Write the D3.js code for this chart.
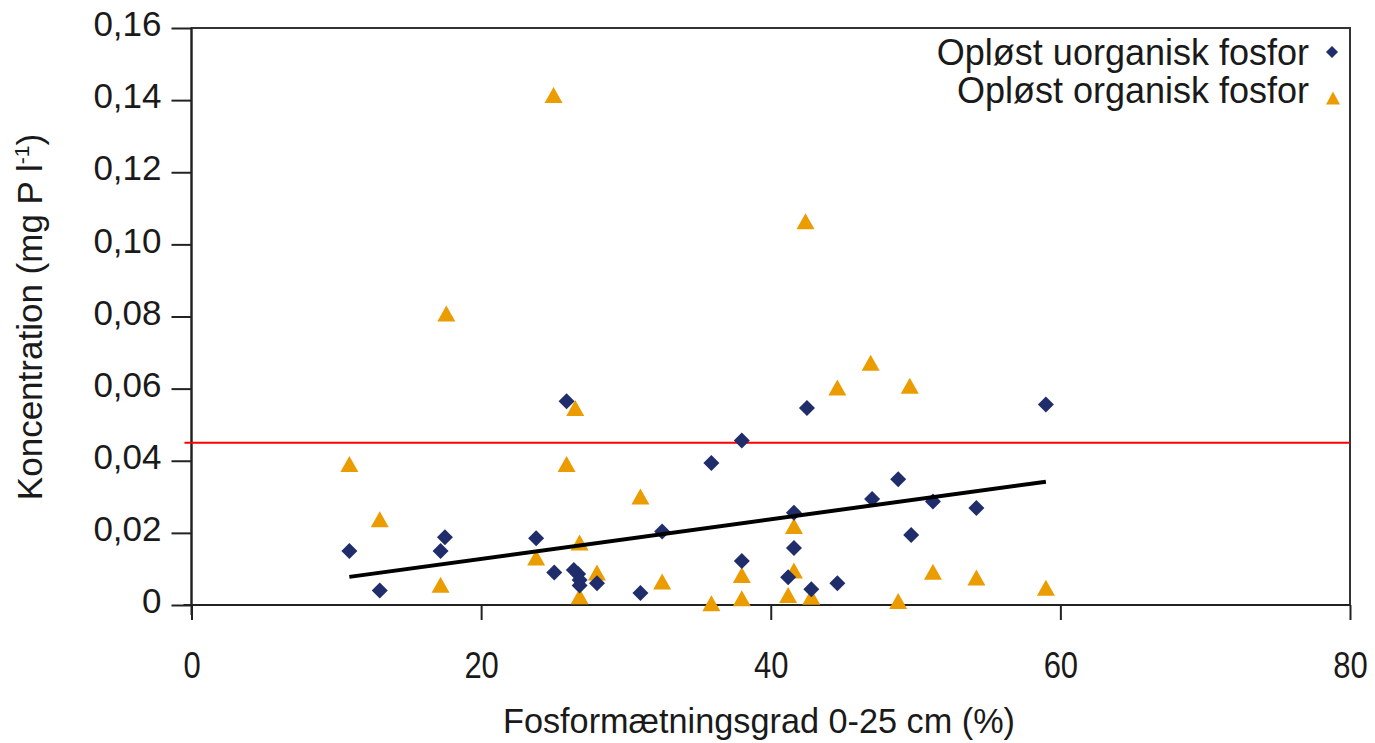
<!DOCTYPE html>
<html>
<head>
<meta charset="utf-8">
<script src="https://cdn.jsdelivr.net/npm/d3@7/dist/d3.min.js"></script>
<style>
    body { margin: 0; background: white; }
    svg { display: block; font-family: "Liberation Sans", Arial, sans-serif; }
</style>
</head>
<body>
<svg id="chart" width="1375" height="743"></svg>
<script>
    // Opløst uorganisk fosfor (diamonds)
    const uorgX = [10.9, 13.0, 17.2, 17.5, 23.8, 25.05, 25.9, 26.4, 26.7, 26.8, 26.8, 28.0, 31.0, 32.5, 35.9,
                   38.0, 38.0, 41.2, 41.6, 41.6, 42.5, 42.8, 44.6, 47.0, 48.8, 49.7, 51.2, 54.2, 59.0];
    const uorgY = [0.0150, 0.0040, 0.0150, 0.0188, 0.0185, 0.0090, 0.0565, 0.0097, 0.0086, 0.0069, 0.0054, 0.0060, 0.0033, 0.0204, 0.0394,
                   0.0456, 0.0122, 0.0077, 0.0256, 0.0158, 0.0546, 0.0044, 0.0060, 0.0294, 0.0349, 0.0194, 0.0287, 0.0269, 0.0556];

    // Opløst organisk fosfor (triangles)
    const orgX = [10.9, 13.0, 17.2, 17.6, 23.8, 25.0, 25.9, 26.5, 26.8, 26.8, 28.0, 31.0, 32.5, 35.9,
                  38.0, 38.0, 41.2, 41.6, 41.6, 42.4, 42.8, 44.6, 46.9, 48.8, 49.6, 51.2, 54.2, 59.0];
    const orgY = [0.0391, 0.0238, 0.0056, 0.0808, 0.0132, 0.1414, 0.0391, 0.0546, 0.0173, 0.0024, 0.0090, 0.0301, 0.0065, 0.0005,
                  0.0083, 0.0019, 0.0028, 0.0219, 0.0096, 0.1064, 0.0023, 0.0603, 0.0672, 0.0011, 0.0608, 0.0092, 0.0076, 0.0048];

    // trend line for uorganisk fosfor, and the red limit line
    const trendX = [10.9, 59.0];
    const trendY = [0.0078, 0.0342];
    const limitY = 0.045;

    const xTicks = [0, 20, 40, 60, 80];
    const yTicks = [0, 0.02, 0.04, 0.06, 0.08, 0.10, 0.12, 0.14, 0.16];
    const legendLabels = ['Opløst uorganisk fosfor', 'Opløst organisk fosfor'];

    const navy = '#1f2d6b';
    const orange = '#eb9c00';
    const textCol = '#1a1a1a';

    const pLeft = 191.5, pRight = 1350, pTop = 28, pBottom = 605;

    const svg = d3.select('#chart');
    const x = d3.scaleLinear().domain([0, 80]).range([pLeft, pRight]);
    const y = d3.scaleLinear().domain([0, 0.16]).range([pBottom, pTop]);

    // plot frame
    svg.append('rect')
        .attr('x', pLeft).attr('y', pTop)
        .attr('width', pRight - pLeft).attr('height', pBottom - pTop)
        .attr('fill', 'none').attr('stroke', '#333').attr('stroke-width', 2);

    // y axis
    const yAxis = svg.append('g')
        .attr('transform', `translate(${pLeft},0)`)
        .call(d3.axisLeft(y).tickValues(yTicks).tickSize(20).tickPadding(10)
            .tickFormat(d => d === 0 ? '0' : d3.format('.2f')(d).replace('.', ',')));
    yAxis.select('.domain').attr('stroke', '#222').attr('stroke-width', 2)
        .attr('d', `M0,${pTop}V${pBottom + 10}`);
    yAxis.selectAll('.tick line').attr('stroke', '#222').attr('stroke-width', 2);
    yAxis.selectAll('.tick text')
        .attr('font-size', 35).attr('fill', textCol)
        .attr('font-family', '"Liberation Sans", Arial, sans-serif')
        .attr('dy', '0.22em');

    // x axis
    const xAxis = svg.append('g')
        .attr('transform', `translate(0,${pBottom})`)
        .call(d3.axisBottom(x).tickValues(xTicks).tickSize(15).tickPadding(32));
    xAxis.select('.domain').attr('stroke', '#222').attr('stroke-width', 2)
        .attr('d', `M${pLeft - 8},0H${pRight}`);
    xAxis.selectAll('.tick line').attr('stroke', '#222').attr('stroke-width', 2);
    xAxis.selectAll('.tick text')
        .attr('font-size', 36).attr('fill', textCol)
        .attr('font-family', '"Liberation Sans", Arial, sans-serif')
        .each(function() {
            const w = this.getComputedTextLength();
            d3.select(this).attr('textLength', w * 0.86).attr('lengthAdjust', 'spacingAndGlyphs');
        });

    // axis titles
    svg.append('text')
        .attr('x', 759).attr('y', 733)
        .attr('text-anchor', 'middle')
        .attr('font-size', 35).attr('fill', textCol)
        .attr('textLength', 512).attr('lengthAdjust', 'spacingAndGlyphs')
        .text('Fosformætningsgrad 0-25 cm (%)');

    const yTitle = svg.append('text')
        .attr('transform', 'translate(42,317) rotate(-90)')
        .attr('text-anchor', 'middle')
        .attr('font-size', 35).attr('fill', textCol);
    yTitle.append('tspan').text('Koncentration (mg P l');
    yTitle.append('tspan').attr('font-size', 21).attr('dy', -13).text('-1');
    yTitle.append('tspan').attr('dy', 13).text(')');

    // red limit line
    svg.append('line')
        .attr('x1', pLeft - 7).attr('x2', pRight)
        .attr('y1', y(limitY)).attr('y2', y(limitY))
        .attr('stroke', '#ff0000').attr('stroke-width', 2);

    // markers
    const diamond = s => `M0,${-s}L${s},0L0,${s}L${-s},0Z`;
    const triangle = (w, h) => `M0,${-h / 2}L${w / 2},${h / 2}L${-w / 2},${h / 2}Z`;

    svg.append('g').selectAll('path')
        .data(orgX.map((d, i) => [d, orgY[i]]))
        .join('path')
        .attr('transform', d => `translate(${x(d[0])},${y(d[1])})`)
        .attr('d', triangle(18, 16))
        .attr('fill', orange);

    svg.append('g').selectAll('path')
        .data(uorgX.map((d, i) => [d, uorgY[i]]))
        .join('path')
        .attr('transform', d => `translate(${x(d[0])},${y(d[1])})`)
        .attr('d', diamond(8))
        .attr('fill', navy);

    // trend line
    svg.append('path')
        .datum(trendX.map((d, i) => [d, trendY[i]]))
        .attr('d', d3.line().x(d => x(d[0])).y(d => y(d[1])))
        .attr('stroke', '#000').attr('stroke-width', 4).attr('fill', 'none');

    // legend
    const legend = svg.append('g');
    legendLabels.forEach((lab, i) => {
        const ly = 65 + i * 38;
        legend.append('text')
            .attr('x', 1309).attr('y', ly)
            .attr('text-anchor', 'end')
            .attr('font-size', 36).attr('fill', textCol)
            .text(lab);
    });
    legend.append('path')
        .attr('transform', 'translate(1332,52)')
        .attr('d', diamond(6)).attr('fill', navy);
    legend.append('path')
        .attr('transform', 'translate(1333,98)')
        .attr('d', triangle(14, 13)).attr('fill', orange);
</script>
</body>
</html>
